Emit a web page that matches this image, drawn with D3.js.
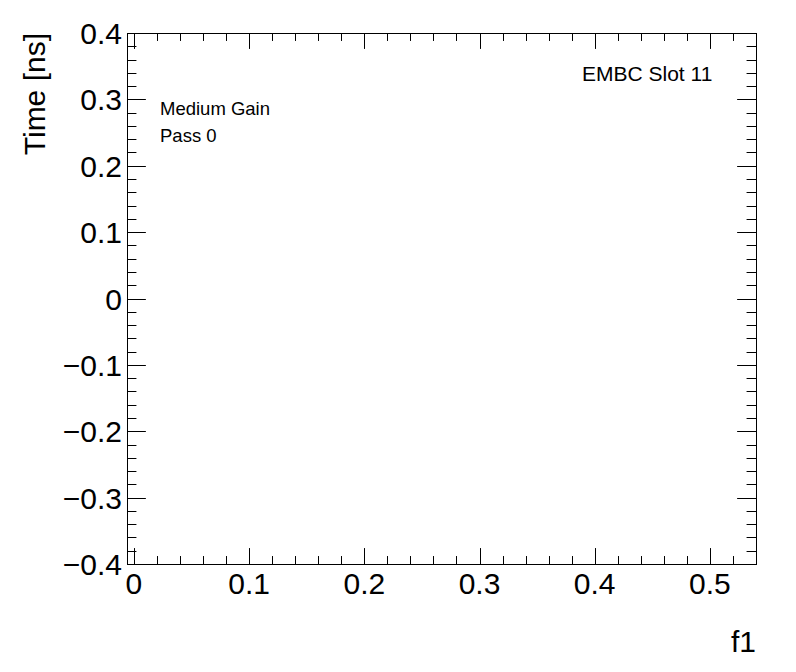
<!DOCTYPE html>
<html>
<head>
<meta charset="utf-8">
<script src="https://cdn.jsdelivr.net/npm/d3@7"></script>
<style>
	body { margin: 0; background: #fff; }
	svg text { font-family: "Liberation Sans", Arial, Helvetica, sans-serif; fill: #000; }
</style>
</head>
<body>
<svg id="chart-svg" width="796" height="672"></svg>
<script>
// axis ranges and ticks (empty frame, no entries)
var xDomain = [-0.006, 0.54],
	yDomain = [-0.4, 0.4],
	xTicks = [0, 0.1, 0.2, 0.3, 0.4, 0.5],
	yTicks = [-0.4, -0.3, -0.2, -0.1, 0, 0.1, 0.2, 0.3, 0.4],
	xTitle = "f1",
	yTitle = "Time [ns]",
	labels = ["Medium Gain", "Pass 0"],
	corner = "EMBC Slot 11";

var margin = {top: 33, right: 40, bottom: 108, left: 127},
	width = 796 - margin.left - margin.right,
	height = 672 - margin.top - margin.bottom,
	svg = d3.select("#chart-svg")
		.append("g")
		.attr("transform", "translate(" + margin.left + "," + margin.top + ")"),
	x = d3.scaleLinear().domain(xDomain).range([0, width]),
	y = d3.scaleLinear().domain(yDomain).range([height, 0]);

var fmt = function(d) { return d3.format(".1~f")(d).replace("-", "\u2212"); };

var xMinor = d3.range(0, xDomain[1] + 1e-9, 0.02).filter(function(d) { return d > xDomain[0]; }),
	yMinor = d3.range(yDomain[0], yDomain[1] + 1e-9, 0.02);

// tick lengths like ROOT: 3% of the other frame side, minor half
var xMaj = 0.03 * height, xMin = xMaj / 2,
	yMaj = 0.03 * width, yMin = yMaj / 2;

function ticks(g, vals, len, scale, axis, side) {
	g.selectAll("line")
		.data(vals)
		.enter().append("line")
		.attr("stroke", "#000")
		.attr("stroke-width", 1)
		.each(function(d) {
			var el = d3.select(this);
			if (axis === "x") {
				var px = Math.round(scale(d)) + 0.5,
					y0 = side === "bottom" ? height : 0,
					y1 = side === "bottom" ? height - len : len;
				el.attr("x1", px).attr("x2", px).attr("y1", y0).attr("y2", y1);
			} else {
				var py = Math.round(scale(d)) + 0.5,
					x0 = side === "left" ? 0 : width,
					x1 = side === "left" ? len : width - len;
				el.attr("y1", py).attr("y2", py).attr("x1", x0).attr("x2", x1);
			}
		});
}

ticks(svg.append("g"), xMinor, xMin, x, "x", "bottom");
ticks(svg.append("g"), xMinor, xMin, x, "x", "top");
ticks(svg.append("g"), xTicks, xMaj, x, "x", "bottom");
ticks(svg.append("g"), xTicks, xMaj, x, "x", "top");
ticks(svg.append("g"), yMinor, yMin, y, "y", "left");
ticks(svg.append("g"), yMinor, yMin, y, "y", "right");
ticks(svg.append("g"), yTicks, yMaj, y, "y", "left");
ticks(svg.append("g"), yTicks, yMaj, y, "y", "right");

// frame
svg.append("rect")
	.attr("x", 0.5)
	.attr("y", 0.5)
	.attr("width", width)
	.attr("height", height)
	.attr("fill", "none")
	.attr("stroke", "#000")
	.attr("stroke-width", 1);

// tick labels
svg.selectAll(".xlab")
	.data(xTicks)
	.enter().append("text")
	.attr("class", "xlab")
	.attr("x", function(d) { return x(d); })
	.attr("y", height + 30)
	.attr("text-anchor", "middle")
	.attr("font-size", 30)
	.text(fmt);

svg.selectAll(".ylab")
	.data(yTicks)
	.enter().append("text")
	.attr("class", "ylab")
	.attr("x", -5)
	.attr("y", function(d) { return y(d) + 11; })
	.attr("text-anchor", "end")
	.attr("font-size", 30)
	.text(fmt);

// axis titles
svg.append("text")
	.attr("x", width)
	.attr("y", height + 88)
	.attr("text-anchor", "end")
	.attr("font-size", 30)
	.text(xTitle);

svg.append("text")
	.attr("transform", "translate(" + (45 - margin.left) + ",0) rotate(-90)")
	.attr("text-anchor", "end")
	.attr("font-size", 30)
	.text(yTitle);

// annotations
svg.append("text")
	.attr("x", 455)
	.attr("y", 48)
	.attr("font-size", 21)
	.text(corner);

svg.selectAll(".note")
	.data(labels)
	.enter().append("text")
	.attr("class", "note")
	.attr("x", 33)
	.attr("y", function(d, i) { return 82 + i * 27; })
	.attr("font-size", 18.5)
	.text(function(d) { return d; });
</script>
</body>
</html>
